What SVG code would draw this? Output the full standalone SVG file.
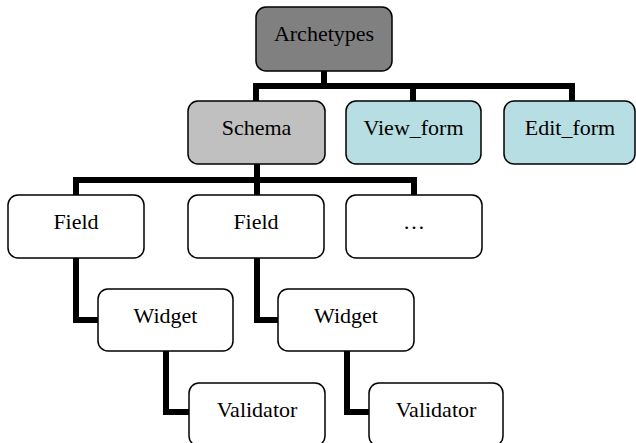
<svg xmlns="http://www.w3.org/2000/svg" width="636" height="443" viewBox="0 0 636 443">
<style>
.box{stroke:#000;stroke-width:1.5;}
.w{fill:#fff}
.dark{fill:#808080}
.mid{fill:#c0c0c0}
.cyan{fill:#b7dee2}
text{font-family:"Liberation Serif","Times New Roman",serif;font-size:22px;fill:#000;text-anchor:middle}
.conn{fill:none;stroke:#000;stroke-width:6;stroke-linejoin:miter;stroke-linecap:butt}
</style>
<rect width="636" height="443" fill="#fff"/>
<g id="connectors">
<path class="conn" d="M324 71 V86 M256 101 V86 H572 V101 M413 86 V101"/>
<path class="conn" d="M257 164 V180 M76 195 V180 H414 V195 M257 180 V195"/>
<path class="conn" d="M76 258 V320 H98"/>
<path class="conn" d="M257 258 V320 H278"/>
<path class="conn" d="M166 351 V412 H189"/>
<path class="conn" d="M347 351 V412 H369"/>
</g>
<g id="archetypes"><rect class="box dark" x="256" y="7" width="136" height="64" rx="10"/><text x="324" y="41">Archetypes</text></g>
<g id="schema"><rect class="box mid" x="188" y="101" width="137" height="63" rx="10"/><text x="256.5" y="135">Schema</text></g>
<g id="view_form"><rect class="box cyan" x="346" y="101" width="135" height="63" rx="10"/><text x="413.5" y="135">View_form</text></g>
<g id="edit_form"><rect class="box cyan" x="504" y="101" width="131" height="63" rx="10"/><text x="570" y="135">Edit_form</text></g>
<g id="field1"><rect class="box w" x="8" y="195" width="136" height="63" rx="10"/><text x="76" y="229">Field</text></g>
<g id="field2"><rect class="box w" x="188" y="195" width="136" height="63" rx="10"/><text x="256" y="229">Field</text></g>
<g id="more"><rect class="box w" x="346" y="195" width="136" height="63" rx="10"/><text x="414" y="229">…</text></g>
<g id="widget1"><rect class="box w" x="98" y="289" width="135" height="62" rx="10"/><text x="165.5" y="323">Widget</text></g>
<g id="widget2"><rect class="box w" x="278" y="289" width="136" height="62" rx="10"/><text x="346" y="323">Widget</text></g>
<g id="validator1"><rect class="box w" x="189" y="383" width="136" height="63" rx="10"/><text x="257" y="417">Validator</text></g>
<g id="validator2"><rect class="box w" x="369" y="383" width="134" height="63" rx="10"/><text x="436" y="417">Validator</text></g>
</svg>
